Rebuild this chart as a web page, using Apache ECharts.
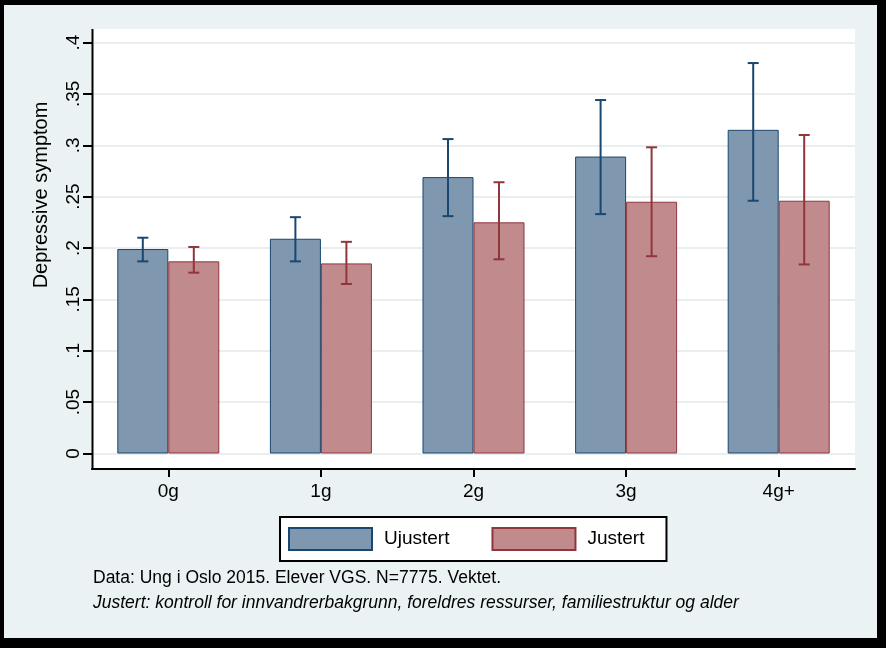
<!DOCTYPE html>
<html>
<head>
<meta charset="utf-8">
<script src="https://cdn.jsdelivr.net/npm/echarts@6/dist/echarts.min.js"></script>
<style>html,body{margin:0;padding:0;background:#000;}#c{width:886px;height:648px;}</style>
</head>
<body>
<div id="c"></div>
<script>
const categories = ['0g', '1g', '2g', '3g', '4g+'];
const ujustert = [0.199, 0.209, 0.269, 0.289, 0.315];
const justert = [0.187, 0.185, 0.225, 0.245, 0.246];
const ujustertLo = [0.187, 0.187, 0.231, 0.233, 0.246];
const ujustertHi = [0.210, 0.230, 0.306, 0.344, 0.380];
const justertLo = [0.176, 0.165, 0.189, 0.192, 0.184];
const justertHi = [0.201, 0.206, 0.264, 0.298, 0.310];
const yTickLabels = ['0', '.05', '.1', '.15', '.2', '.25', '.3', '.35', '.4'];
const seriesNames = ['Ujustert', 'Justert'];
const yTitle = 'Depressive symptom';
const note1 = 'Data: Ung i Oslo 2015. Elever VGS. N=7775. Vektet.';
const note2 = 'Justert: kontroll for innvandrerbakgrunn, foreldres ressurser, familiestruktur og alder';

const FONT = "'Liberation Sans', Arial, sans-serif";
const NAVY = '#1a476f', MAROON = '#90353b';
const BAR_W = 51;

function errData(lo, hi) { return lo.map((l, i) => [i, l, hi[i]]); }
function errRender(offset, color) {
  return function (params, api) {
    const i = api.value(0);
    const lo = api.coord([i, api.value(1)]);
    const hi = api.coord([i, api.value(2)]);
    const x = hi[0] + offset;
    const cap = 5.5;
    const st = { stroke: color, lineWidth: 2 };
    return { type: 'group', children: [
      { type: 'line', shape: { x1: x, y1: hi[1], x2: x, y2: lo[1] }, style: st },
      { type: 'line', shape: { x1: x - cap, y1: hi[1], x2: x + cap, y2: hi[1] }, style: st },
      { type: 'line', shape: { x1: x - cap, y1: lo[1], x2: x + cap, y2: lo[1] }, style: st }
    ]};
  };
}

const chart = echarts.init(document.getElementById('c'), null, { renderer: 'canvas' });
chart.setOption({
  animation: false,
  backgroundColor: '#000',
  grid: { left: 92, right: 31, top: 42.5, bottom: 194.5, containLabel: false },
  xAxis: {
    type: 'category', data: categories, offset: 15.5,
    axisLine: { show: true, onZero: false, lineStyle: { color: '#000', width: 2 } },
    axisTick: { show: true, alignWithLabel: true, length: 8, lineStyle: { color: '#000', width: 2 } },
    axisLabel: { fontSize: 19, fontFamily: FONT, color: '#000', margin: 13 },
    splitLine: { show: false }
  },
  yAxis: {
    type: 'value', min: 0, max: 0.4, interval: 0.05,
    axisLine: { show: false },
    axisTick: { show: true, length: 9, lineStyle: { color: '#000', width: 2 } },
    axisLabel: { rotate: 90, fontSize: 19, fontFamily: FONT, color: '#000', margin: 9,
      formatter: function (v) { return yTickLabels[Math.round(v / 0.05)]; } },
    splitLine: { show: true, lineStyle: { color: '#e9eef0', width: 2 } }
  },
  legend: {
    left: 280, top: 517, orient: 'horizontal', selectedMode: false,
    padding: [10, 22, 10, 8], itemGap: 42, itemWidth: 83, itemHeight: 22,
    borderColor: '#000', borderWidth: 2, backgroundColor: '#fff', borderRadius: 0,
    icon: 'rect',
    textStyle: { fontSize: 19, fontFamily: FONT, color: '#000', padding: [0, 0, 0, 7] },
    data: [{ name: seriesNames[0] }, { name: seriesNames[1] }]
  },
  graphic: { elements: [
    { type: 'rect', z: -20, silent: true, shape: { x: 4, y: 5, width: 873, height: 633 }, style: { fill: '#eaf2f3' } },
    { type: 'rect', z: -10, silent: true, shape: { x: 92, y: 29, width: 763, height: 440 }, style: { fill: '#ffffff' } },
    { type: 'line', z: 10, silent: true, shape: { x1: 92.5, y1: 29, x2: 92.5, y2: 470 }, style: { stroke: '#000', lineWidth: 2 } },
    { type: 'text', silent: true, x: 41, y: 195, rotation: Math.PI / 2,
      style: { text: yTitle, font: '20px ' + FONT, fill: '#000', textAlign: 'center', textVerticalAlign: 'middle' } },
    { type: 'text', silent: true, x: 93, y: 578,
      style: { text: note1, font: '17.5px ' + FONT, fill: '#000', textAlign: 'left', textVerticalAlign: 'middle' } },
    { type: 'text', silent: true, x: 93, y: 603,
      style: { text: note2, font: 'italic 17.5px ' + FONT, fill: '#000', textAlign: 'left', textVerticalAlign: 'middle' } }
  ]},
  series: [
    { name: seriesNames[0], type: 'bar', data: ujustert, barWidth: BAR_W, barGap: '0%',
      itemStyle: { color: '#7f97af', borderColor: NAVY, borderWidth: 1 } },
    { name: seriesNames[1], type: 'bar', data: justert, barWidth: BAR_W, barGap: '0%',
      itemStyle: { color: '#c18b8e', borderColor: MAROON, borderWidth: 1 } },
    { name: 'errU', type: 'custom', data: errData(ujustertLo, ujustertHi), encode: { x: 0, y: [1, 2] },
      renderItem: errRender(-BAR_W / 2, NAVY), z: 5, clip: false },
    { name: 'errJ', type: 'custom', data: errData(justertLo, justertHi), encode: { x: 0, y: [1, 2] },
      renderItem: errRender(BAR_W / 2, MAROON), z: 5, clip: false }
  ]
});
</script>
</body>
</html>
